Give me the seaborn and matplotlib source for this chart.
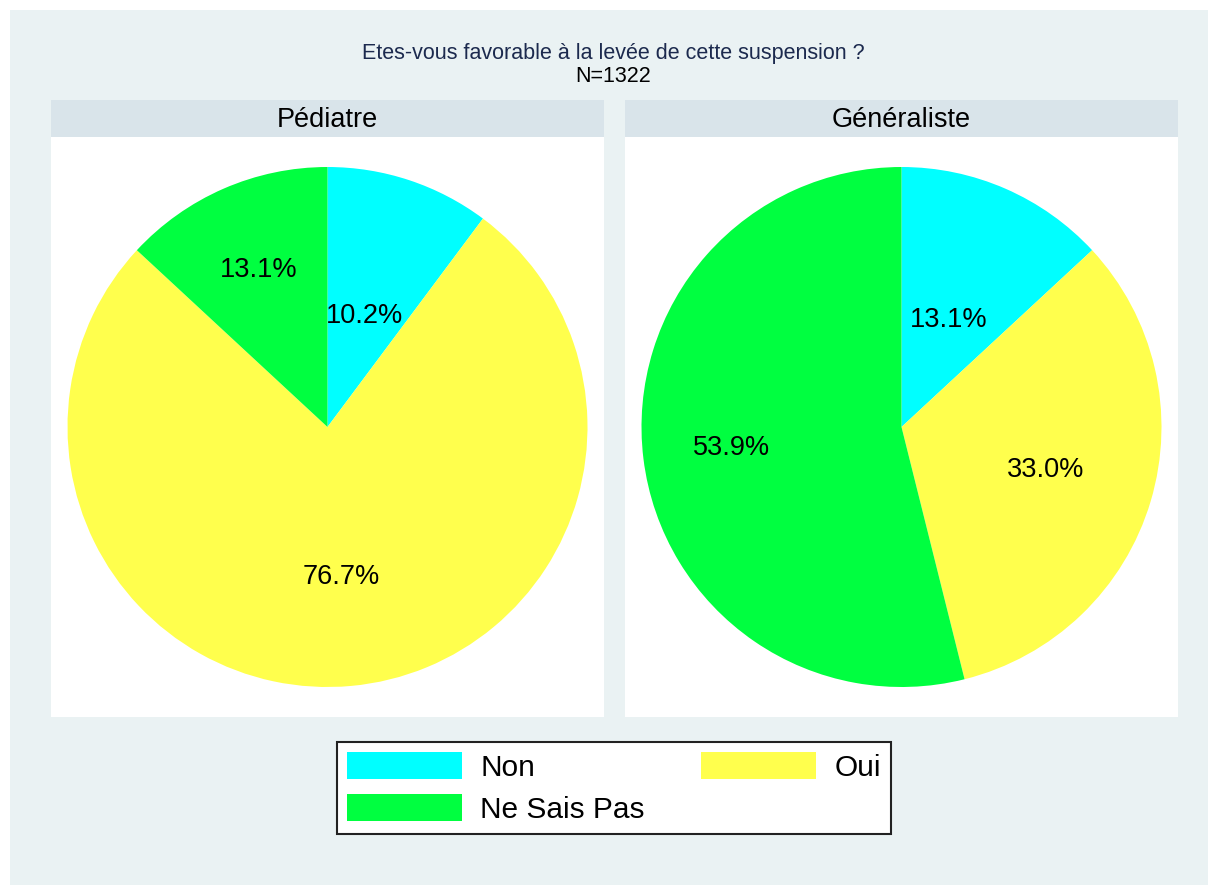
import numpy as np
import seaborn as sns
from matplotlib import pyplot as plt
from matplotlib.patches import Rectangle, Patch

# Data
categories = ["Non", "Oui", "Ne Sais Pas"]
panels = ["Pédiatre", "Généraliste"]
pediatre = [10.2, 76.7, 13.1]
generaliste = [13.1, 33.0, 53.9]
title = "Etes-vous favorable à la levée de cette suspension ?"
subtitle = "N=1322"

colors = ["#00ffff", "#ffff4d", "#00ff40"]
label_dist = [0.45, 0.58, 0.66]  # Stata-like label placement per slice

sns.set_theme(style="white")
plt.rcParams["font.family"] = ["Liberation Sans", "DejaVu Sans"]
plt.rcParams["text.color"] = "black"

W, H = 1208, 885
fig = plt.figure(figsize=(W / 100, H / 100), dpi=100, facecolor="white")

# light background panel
fig.patches.append(Rectangle((10 / W, 0), 1, 1 - 10 / H, transform=fig.transFigure,
                             facecolor="#eaf2f3", edgecolor="none", zorder=-10))

fig.text(613 / W, 1 - 53 / H, title, ha="center", va="center", fontsize=15.5, color="#1c2a4e")
fig.text(613 / W, 1 - 77 / H, subtitle, ha="center", va="center", fontsize=15.5, color="black")

R = 260.0
lefts = [51, 625]
for left, name, vals in zip(lefts, panels, [pediatre, generaliste]):
    aw, ah = 553, 580
    ax = fig.add_axes([left / W, 1 - 717 / H, aw / W, ah / H])
    ax.set_facecolor("white")
    wedges, _ = ax.pie(vals, colors=colors, startangle=90, counterclock=False,
                       radius=1.0, wedgeprops=dict(linewidth=0))
    for w, v, d in zip(wedges, vals, label_dist):
        mid = np.deg2rad((w.theta1 + w.theta2) / 2)
        ax.text(d * np.cos(mid), d * np.sin(mid), f"{v:.1f}%",
                ha="center", va="center", fontsize=19.5, color="black")
    ax.set_xlim(-aw / 2 / R, aw / 2 / R)
    ax.set_ylim(-ah / 2 / R, ah / 2 / R)
    ax.set_aspect("auto")
    ax.axis("off")
    ax.add_patch(Rectangle((0, 0), 1, 1, transform=ax.transAxes, facecolor="white",
                           edgecolor="none", zorder=-5))

    hx = fig.add_axes([left / W, 1 - 137 / H, aw / W, 37 / H])
    hx.set_facecolor("#d9e4ea")
    hx.set_xticks([])
    hx.set_yticks([])
    for s in hx.spines.values():
        s.set_visible(False)
    hx.text(0.5, 0.47, name, ha="center", va="center", fontsize=19.5, color="black",
            transform=hx.transAxes)

order = [0, 2, 1]
handles = [Patch(facecolor=colors[i], edgecolor="none", label=categories[i]) for i in order]
leg = fig.legend(handles=handles, loc="center", bbox_to_anchor=(614 / W, 1 - 788 / H),
                 ncol=2, fontsize=21.5, frameon=True, fancybox=False, edgecolor="#222222",
                 framealpha=1, handlelength=3.85, handleheight=1.0, columnspacing=1.9,
                 handletextpad=0.6, borderpad=0.35, labelspacing=0.4)
leg.get_frame().set_linewidth(1.5)
leg.get_frame().set_facecolor("white")
for t in leg.get_texts():
    t.set_color("black")

fig.savefig("out.png", dpi=100, facecolor=fig.get_facecolor())
